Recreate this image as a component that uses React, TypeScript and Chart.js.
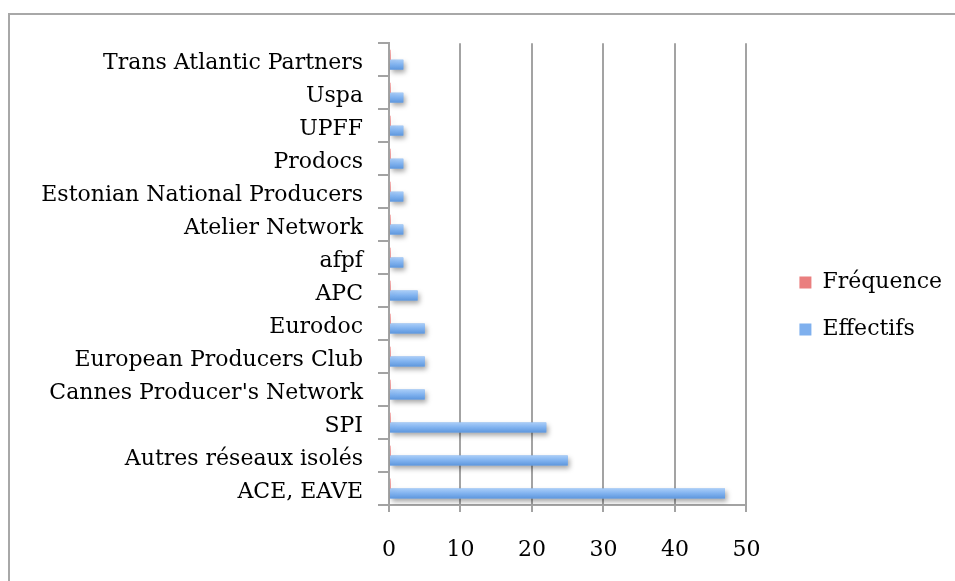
import React, { useEffect, useRef } from "react";
import { Chart, registerables } from "chart.js";

Chart.register(...registerables);

const categories = [
  "Trans Atlantic Partners",
  "Uspa",
  "UPFF",
  "Prodocs",
  "Estonian National Producers",
  "Atelier Network",
  "afpf",
  "APC",
  "Eurodoc",
  "European Producers Club",
  "Cannes Producer's Network",
  "SPI",
  "Autres réseaux isolés",
  "ACE, EAVE",
];

const frequence = [0.2, 0.2, 0.2, 0.2, 0.2, 0.2, 0.2, 0.2, 0.2, 0.2, 0.2, 0.2, 0.2, 0.2];
const effectifs = [2, 2, 2, 2, 2, 2, 2, 4, 5, 5, 5, 22, 25, 47];
const seriesNames = ["Fréquence", "Effectifs"];
const xTicks = [0, 10, 20, 30, 40, 50];

const FONT = "'DejaVu Serif', serif";
const GRID = "#a3a3a3";
const BASE_COLORS = ["#ea7f7f", "#7fb0ee"];
const GRADS = [
  ["#f6aaaa", "#e46a6a", "#d85a5a"],
  ["#a9cdf8", "#80b2ef", "#5e97dd"],
];

const shadowPlugin = {
  id: "barShadow",
  beforeDatasetDraw(chart: any) {
    const ctx = chart.ctx;
    ctx.save();
    ctx.shadowColor = "rgba(0,0,0,0.35)";
    ctx.shadowBlur = 5;
    ctx.shadowOffsetX = 2;
    ctx.shadowOffsetY = 3;
  },
  afterDatasetDraw(chart: any, args: any) {
    const ctx = chart.ctx;
    ctx.restore();
    const stops = GRADS[args.index];
    ctx.save();
    const a = chart.chartArea;
    ctx.beginPath();
    ctx.rect(a.left, a.top, a.right - a.left, a.bottom - a.top);
    ctx.clip();
    args.meta.data.forEach((el: any) => {
      const { x, y, base, height } = el.getProps(["x", "y", "base", "height"], true);
      const top = y - height / 2;
      const g = ctx.createLinearGradient(0, top, 0, top + height);
      g.addColorStop(0, stops[0]);
      g.addColorStop(0.5, stops[1]);
      g.addColorStop(1, stops[2]);
      ctx.fillStyle = g;
      ctx.fillRect(Math.min(x, base), top, Math.abs(x - base), height);
    });
    ctx.restore();
  },
};

const legendShift = {
  id: "legendShift",
  afterLayout(chart: any) {
    const lg = chart.legend;
    if (!lg) return;
    lg.left += 28;
    lg.right += 28;
    lg.top -= 6;
    lg.bottom -= 6;
  },
};

export default function App() {
  const ref = useRef<HTMLCanvasElement>(null);
  useEffect(() => {
    const chart = new Chart(ref.current as HTMLCanvasElement, {
      type: "bar",
      data: {
        labels: categories,
        datasets: [
          { label: seriesNames[0], data: frequence, backgroundColor: BASE_COLORS[0], borderWidth: 0 },
          { label: seriesNames[1], data: effectifs, backgroundColor: BASE_COLORS[1], borderWidth: 0 },
        ],
      },
      options: {
        indexAxis: "y",
        animation: false,
        responsive: false,
        maintainAspectRatio: false,
        datasets: { bar: { categoryPercentage: 0.6, barPercentage: 1 } },
        layout: { padding: { top: 28, right: 31, left: 0, bottom: 0 } },
        plugins: {
          tooltip: { enabled: false },
          legend: {
            position: "right",
            labels: {
              font: { family: FONT, size: 22 },
              color: "#000",
              boxWidth: 12,
              boxHeight: 12,
              padding: 25,
            },
          },
        },
        scales: {
          x: {
            min: 0,
            max: 50,
            afterBuildTicks: (s: any) => {
              s.ticks = xTicks.map((v) => ({ value: v }));
            },
            afterFit: (s: any) => {
              s.height = 76;
            },
            ticks: { font: { family: FONT, size: 22 }, color: "#000", padding: 25, maxRotation: 0 },
            grid: { color: GRID, lineWidth: 2, tickLength: 7 },
            border: { color: GRID, width: 2 },
          },
          y: {
            afterFit: (s: any) => {
              s.width = 379;
            },
            ticks: { font: { family: FONT, size: 22 }, color: "#000", padding: 15, autoSkip: false, labelOffset: 4 },
            grid: { drawOnChartArea: false, offset: true, color: GRID, lineWidth: 2, tickLength: 11 },
            border: { color: GRID, width: 2 },
          },
        },
      },
      plugins: [shadowPlugin, legendShift],
    });
    return () => chart.destroy();
  }, []);

  return (
    <div style={{ position: "fixed", left: 0, top: 0, width: 955, height: 581, overflow: "hidden", background: "#fff" }}>
      <div
        style={{
          position: "absolute",
          left: 8,
          top: 13,
          width: 1000,
          height: 620,
          border: "2px solid #a8a8a8",
        }}
      >
        <canvas ref={ref} width={945} height={566} style={{ display: "block", width: 945, height: 566 }} />
      </div>
    </div>
  );
}
